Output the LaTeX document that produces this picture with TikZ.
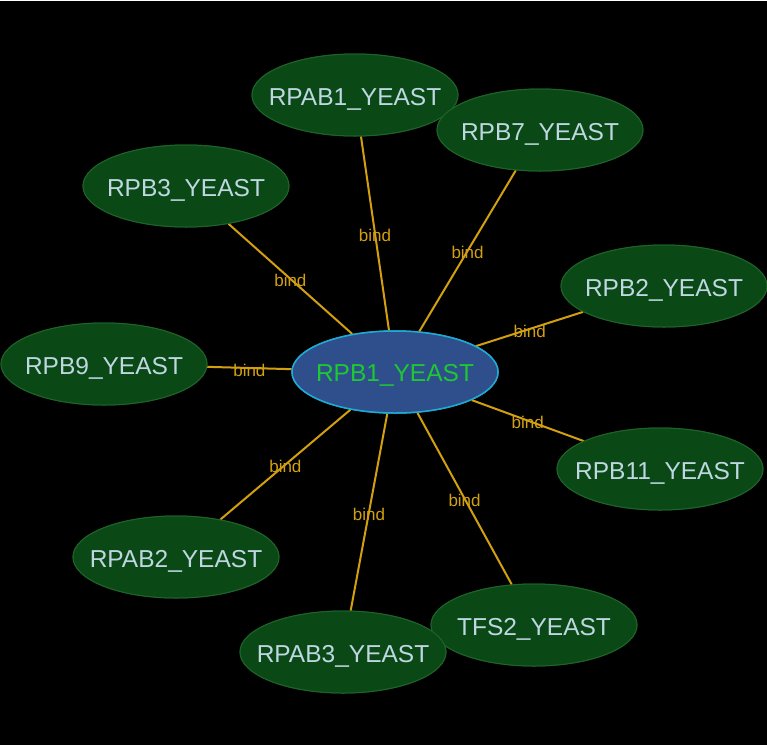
\documentclass[tikz,border=0pt]{standalone}
\usepackage{fontspec}
\setmainfont{Liberation Sans}
\usetikzlibrary{shapes.geometric}
\definecolor{bg}{RGB}{0,0,0}
\definecolor{leaf}{RGB}{10,72,22}
\definecolor{leafborder}{RGB}{30,100,40}
\definecolor{leaftext}{RGB}{190,215,225}
\definecolor{hubfill}{RGB}{46,78,140}
\definecolor{hubborder}{RGB}{30,170,210}
\definecolor{hubtext}{RGB}{30,200,50}
\definecolor{edgecol}{RGB}{210,160,15}
\begin{document}
\begin{tikzpicture}[x=1pt,y=-1pt,
  leafnode/.style={ellipse,fill=leaf,draw=leafborder,line width=1pt,minimum width=206pt,minimum height=82pt,inner sep=0pt},
  leaflabel/.style={text=leaftext,font=\fontsize{24.5}{26}\selectfont,inner sep=0pt,yshift=-4pt},
  hubnode/.style={ellipse,fill=hubfill,draw=hubborder,line width=1.5pt,minimum width=206pt,minimum height=82pt,inner sep=0pt},
  hublabel/.style={text=hubtext,font=\fontsize{24.5}{26}\selectfont,inner sep=0pt,yshift=-3pt},
  edgeline/.style={draw=edgecol,line width=2pt},
  bindlabel/.style={text=edgecol,font=\fontsize{17}{19}\selectfont,inner sep=0pt,yshift=-2pt}]
\fill[bg] (0,0) rectangle (767,745);
\useasboundingbox (0,0) rectangle (767,745);
\draw[white,line width=1pt] (0,0.5) -- (767,0.5);
\node[hubnode] (c) at (395,372) {};
\node[leafnode] (n1) at (355,95) {};
\node[leafnode] (n2) at (540,130) {};
\node[leafnode] (n3) at (186,186) {};
\node[leafnode] (n4) at (664,286) {};
\node[leafnode] (n5) at (104,364) {};
\node[leafnode] (n6) at (660,469) {};
\node[leafnode] (n7) at (176,557) {};
\node[leafnode] (n8) at (534,625) {};
\node[leafnode] (n9) at (343,652) {};
\foreach \n in {n1,n2,n3,n4,n5,n6,n7,n8,n9}{
  \draw[edgeline] (c) -- (\n) node[pos=0.5,bindlabel]{bind};
}
\node[hubnode,label={[hublabel]center:RPB1\_YEAST}] at (c) {};
\foreach \n/\t in {n1/RPAB1,n2/RPB7,n3/RPB3,n4/RPB2,n5/RPB9,n6/RPB11,n7/RPAB2,n8/TFS2,n9/RPAB3}{
  \node[leafnode,label={[leaflabel]center:\t\_YEAST}] at (\n) {};
}
\end{tikzpicture}
\end{document}
